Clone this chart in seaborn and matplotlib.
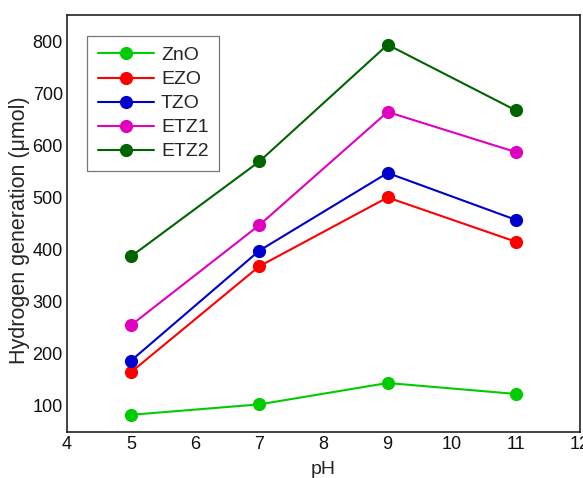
import matplotlib
matplotlib.use("Agg")
import matplotlib.pyplot as plt
import seaborn as sns
import pandas as pd

ph = [5, 7, 9, 11]
series_names = ["ZnO", "EZO", "TZO", "ETZ1", "ETZ2"]
zno = [83, 103, 144, 123]
ezo = [165, 368, 500, 415]
tzo = [187, 398, 547, 457]
etz1 = [255, 447, 664, 587]
etz2 = [387, 569, 793, 667]
colors = ["#00CC00", "#FF0000", "#0000CC", "#E000C0", "#006400"]

rows = []
for name, vals in zip(series_names, [zno, ezo, tzo, etz1, etz2]):
    for x, v in zip(ph, vals):
        rows.append({"pH": x, "value": v, "series": name})
df = pd.DataFrame(rows)

sns.set_style("ticks")
plt.rcParams["font.family"] = ["Liberation Sans", "DejaVu Sans"]

fig = plt.figure(figsize=(5.83, 4.78), dpi=100)
ax = fig.add_axes([67/583, 1 - 432/478, (580 - 67)/583, (432 - 15)/478])

sns.lineplot(data=df, x="pH", y="value", hue="series", hue_order=series_names,
             palette=dict(zip(series_names, colors)), marker="o", markersize=9.5,
             markeredgewidth=0, linewidth=1.5, ax=ax, legend=True)

ax.set_xlim(4, 12)
ax.set_ylim(50, 850)
ax.set_xticks(range(4, 13))
ax.set_yticks(range(100, 900, 100))
ax.tick_params(axis="both", length=0, labelsize=13, pad=3, colors="#111111")
for s in ax.spines.values():
    s.set_color("#222222")
    s.set_linewidth(1.2)
ax.set_xlabel("pH", fontsize=14, labelpad=6)
ax.set_ylabel("Hydrogen generation (\u03bcmol)", fontsize=15.5, labelpad=1)
ax.yaxis.set_label_coords(-0.072, 0.485)

handles, labels = ax.get_legend_handles_labels()
for h in handles:
    h.set_markeredgewidth(0)
    h.set_markersize(9.5)
leg = ax.legend(handles, labels, loc="upper left", bbox_to_anchor=(20/513, 1 - 21/417),
                fontsize=14, frameon=True, fancybox=False, borderaxespad=0,
                handlelength=2.9, handletextpad=0.36, labelspacing=0.33,
                borderpad=0.55)
leg.get_frame().set_edgecolor("#555555")
leg.get_frame().set_linewidth(0.9)

fig.savefig("out.png", dpi=100)
